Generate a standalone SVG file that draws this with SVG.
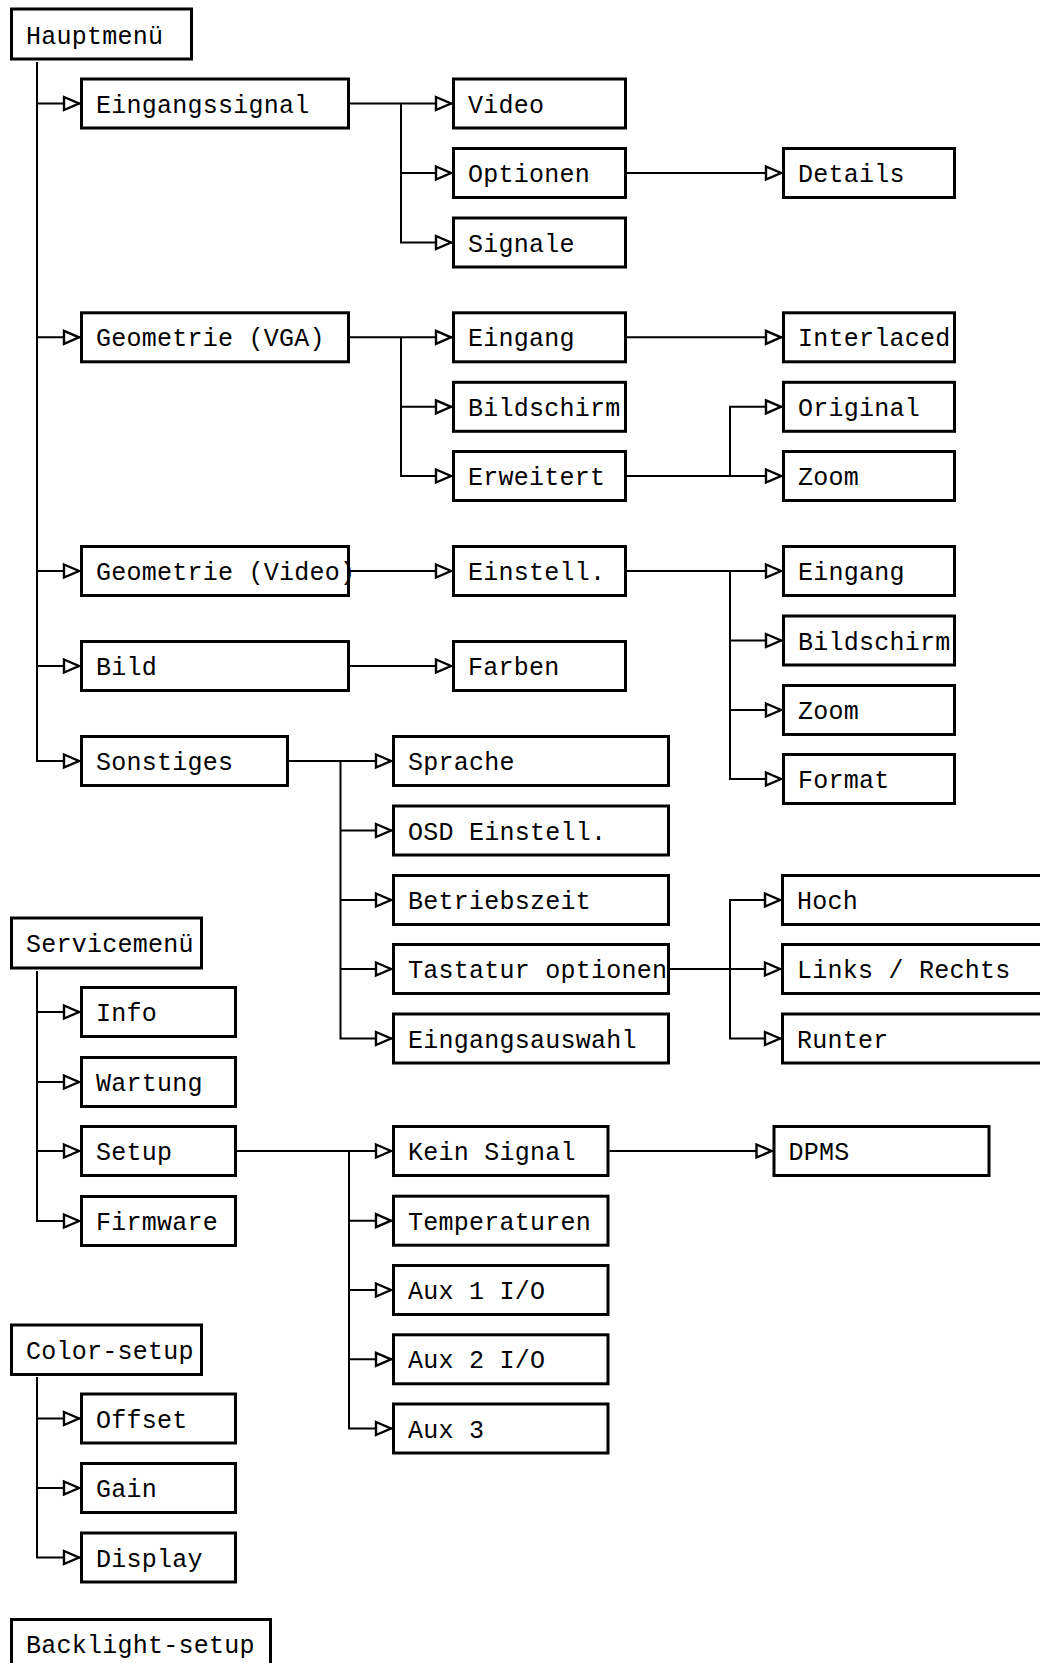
<svg xmlns="http://www.w3.org/2000/svg" width="1040" height="1663" viewBox="0 0 1040 1663">
<style>
.b rect{fill:#fff;stroke:#000;stroke-width:3}
.b text{font-family:"Liberation Mono","DejaVu Sans Mono",monospace;font-size:25px;letter-spacing:0.25px;fill:#000}
#connectors path{fill:none;stroke:#000;stroke-width:2;marker-end:url(#arr)}
</style>
<defs>
<marker id="arr" markerUnits="userSpaceOnUse" markerWidth="20" markerHeight="18" viewBox="0 0 20 18" refX="18" refY="9" orient="auto">
<path d="M2 2.5 L17 9 L2 15.5 Z" fill="#fff" stroke="#000" stroke-width="2.4"/>
</marker>
</defs>
<rect width="1040" height="1663" fill="#fff"/>
<g id="connectors">
<path d="M37 62 V761 H80"/>
<path d="M37 103.5 H80"/>
<path d="M37 337.3 H80"/>
<path d="M37 571 H80"/>
<path d="M37 666 H80"/>
<path d="M350 103.5 H452"/>
<path d="M401 103.5 V242.5 H452"/>
<path d="M401 173 H452"/>
<path d="M627 173 H782"/>
<path d="M350 337.3 H452"/>
<path d="M401 337.3 V476 H452"/>
<path d="M401 406.8 H452"/>
<path d="M627 337.3 H782"/>
<path d="M627 476 H782"/>
<path d="M730 476 V406.8 H782"/>
<path d="M350 571 H452"/>
<path d="M627 571 H782"/>
<path d="M730 571 V779 H782"/>
<path d="M730 640.5 H782"/>
<path d="M730 710 H782"/>
<path d="M350 666 H452"/>
<path d="M289 761 H392"/>
<path d="M340.5 761 V1038.5 H392"/>
<path d="M340.5 830.5 H392"/>
<path d="M340.5 900 H392"/>
<path d="M340.5 969 H392"/>
<path d="M670 969 H781"/>
<path d="M730 969 V900 H781"/>
<path d="M730 969 V1038.5 H781"/>
<path d="M37 971 V1221 H80"/>
<path d="M37 1012 H80"/>
<path d="M37 1082 H80"/>
<path d="M37 1151 H80"/>
<path d="M237 1151 H392"/>
<path d="M349 1151 V1428.5 H392"/>
<path d="M349 1220.7 H392"/>
<path d="M349 1290 H392"/>
<path d="M349 1359.3 H392"/>
<path d="M609.5 1151 H772.5"/>
<path d="M37 1377 V1557.5 H80"/>
<path d="M37 1418.5 H80"/>
<path d="M37 1488 H80"/>
</g>
<g id="n-hauptmenu" class="b"><rect x="11.5" y="9" width="180" height="50"/><text x="26" y="43.5">Hauptmenü</text></g>
<g id="n-eingangssignal" class="b"><rect x="81.5" y="79" width="267" height="49"/><text x="96" y="112.5">Eingangssignal</text></g>
<g id="n-video" class="b"><rect x="453.5" y="79" width="172" height="49"/><text x="468" y="112.5">Video</text></g>
<g id="n-optionen" class="b"><rect x="453.5" y="148.5" width="172" height="49"/><text x="468" y="182">Optionen</text></g>
<g id="n-details" class="b"><rect x="783.5" y="148.5" width="171" height="49"/><text x="798" y="182">Details</text></g>
<g id="n-signale" class="b"><rect x="453.5" y="218" width="172" height="49"/><text x="468" y="251.5">Signale</text></g>
<g id="n-geo-vga" class="b"><rect x="81.5" y="312.8" width="267" height="49"/><text x="96" y="346.3">Geometrie (VGA)</text></g>
<g id="n-vga-eingang" class="b"><rect x="453.5" y="312.8" width="172" height="49"/><text x="468" y="346.3">Eingang</text></g>
<g id="n-interlaced" class="b"><rect x="783.5" y="312.8" width="171" height="49"/><text x="798" y="346.3">Interlaced</text></g>
<g id="n-vga-bildschirm" class="b"><rect x="453.5" y="382.3" width="172" height="49"/><text x="468" y="415.8">Bildschirm</text></g>
<g id="n-original" class="b"><rect x="783.5" y="382.3" width="171" height="49"/><text x="798" y="415.8">Original</text></g>
<g id="n-erweitert" class="b"><rect x="453.5" y="451.5" width="172" height="49"/><text x="468" y="485">Erweitert</text></g>
<g id="n-vga-zoom" class="b"><rect x="783.5" y="451.5" width="171" height="49"/><text x="798" y="485">Zoom</text></g>
<g id="n-geo-video" class="b"><rect x="81.5" y="546.5" width="267" height="49"/><text x="96" y="580">Geometrie (Video)</text></g>
<g id="n-einstell" class="b"><rect x="453.5" y="546.5" width="172" height="49"/><text x="468" y="580">Einstell.</text></g>
<g id="n-vid-eingang" class="b"><rect x="783.5" y="546.5" width="171" height="49"/><text x="798" y="580">Eingang</text></g>
<g id="n-vid-bildschirm" class="b"><rect x="783.5" y="616" width="171" height="49"/><text x="798" y="649.5">Bildschirm</text></g>
<g id="n-bild" class="b"><rect x="81.5" y="641.5" width="267" height="49"/><text x="96" y="675">Bild</text></g>
<g id="n-farben" class="b"><rect x="453.5" y="641.5" width="172" height="49"/><text x="468" y="675">Farben</text></g>
<g id="n-vid-zoom" class="b"><rect x="783.5" y="685.5" width="171" height="49"/><text x="798" y="719">Zoom</text></g>
<g id="n-format" class="b"><rect x="783.5" y="754.5" width="171" height="49"/><text x="798" y="788">Format</text></g>
<g id="n-sonstiges" class="b"><rect x="81.5" y="736.5" width="206" height="49"/><text x="96" y="770">Sonstiges</text></g>
<g id="n-sprache" class="b"><rect x="393.5" y="736.5" width="275" height="49"/><text x="408" y="770">Sprache</text></g>
<g id="n-osd" class="b"><rect x="393.5" y="806" width="275" height="49"/><text x="408" y="839.5">OSD Einstell.</text></g>
<g id="n-betriebszeit" class="b"><rect x="393.5" y="875.5" width="275" height="49"/><text x="408" y="909">Betriebszeit</text></g>
<g id="n-tastatur" class="b"><rect x="393.5" y="944.5" width="275" height="49"/><text x="408" y="978">Tastatur optionen</text></g>
<g id="n-eingangsauswahl" class="b"><rect x="393.5" y="1014" width="275" height="49"/><text x="408" y="1047.5">Eingangsauswahl</text></g>
<g id="n-hoch" class="b"><rect x="782.5" y="875.5" width="300" height="49"/><text x="797" y="909">Hoch</text></g>
<g id="n-links" class="b"><rect x="782.5" y="944.5" width="300" height="49"/><text x="797" y="978">Links / Rechts</text></g>
<g id="n-runter" class="b"><rect x="782.5" y="1014" width="300" height="49"/><text x="797" y="1047.5">Runter</text></g>
<g id="n-servicemenu" class="b"><rect x="11.5" y="918" width="190" height="50"/><text x="26" y="952">Servicemenü</text></g>
<g id="n-info" class="b"><rect x="81.5" y="987.5" width="154" height="49"/><text x="96" y="1021">Info</text></g>
<g id="n-wartung" class="b"><rect x="81.5" y="1057.5" width="154" height="49"/><text x="96" y="1091">Wartung</text></g>
<g id="n-setup" class="b"><rect x="81.5" y="1126.5" width="154" height="49"/><text x="96" y="1160">Setup</text></g>
<g id="n-firmware" class="b"><rect x="81.5" y="1196.5" width="154" height="49"/><text x="96" y="1230">Firmware</text></g>
<g id="n-keinsignal" class="b"><rect x="393.5" y="1126.5" width="214.5" height="49"/><text x="408" y="1160">Kein Signal</text></g>
<g id="n-dpms" class="b"><rect x="774" y="1126.5" width="215" height="49"/><text x="788.5" y="1160">DPMS</text></g>
<g id="n-temperaturen" class="b"><rect x="393.5" y="1196.2" width="214.5" height="49"/><text x="408" y="1229.7">Temperaturen</text></g>
<g id="n-aux1" class="b"><rect x="393.5" y="1265.5" width="214.5" height="49"/><text x="408" y="1299">Aux 1 I/O</text></g>
<g id="n-aux2" class="b"><rect x="393.5" y="1334.8" width="214.5" height="49"/><text x="408" y="1368.3">Aux 2 I/O</text></g>
<g id="n-aux3" class="b"><rect x="393.5" y="1404" width="214.5" height="49"/><text x="408" y="1437.5">Aux 3</text></g>
<g id="n-colorsetup" class="b"><rect x="11.5" y="1325" width="190" height="49.5"/><text x="26" y="1358.5">Color-setup</text></g>
<g id="n-offset" class="b"><rect x="81.5" y="1394" width="154" height="49"/><text x="96" y="1427.5">Offset</text></g>
<g id="n-gain" class="b"><rect x="81.5" y="1463.5" width="154" height="49"/><text x="96" y="1497">Gain</text></g>
<g id="n-display" class="b"><rect x="81.5" y="1533" width="154" height="49"/><text x="96" y="1566.5">Display</text></g>
<g id="n-backlight" class="b"><rect x="11.5" y="1619.5" width="259" height="50"/><text x="26" y="1653">Backlight-setup</text></g>
</svg>
